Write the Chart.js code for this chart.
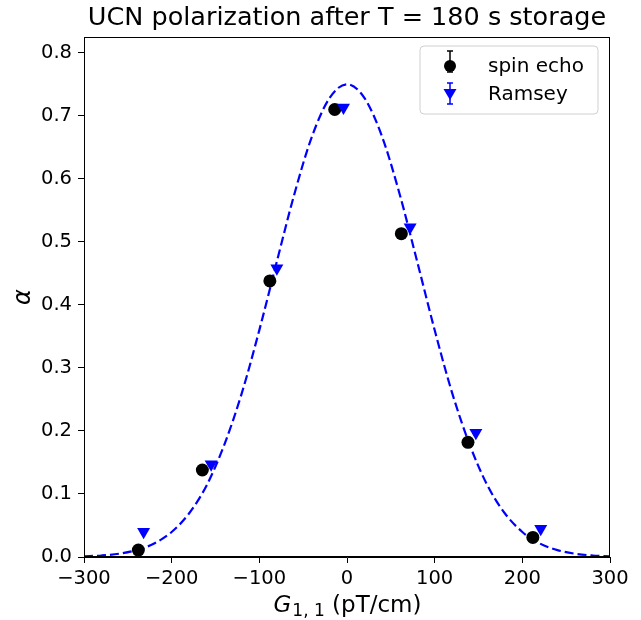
<!DOCTYPE html>
<html>
<head>
<meta charset="utf-8">
<script src="https://cdn.jsdelivr.net/npm/chart.js@4.4.1/dist/chart.umd.min.js"></script>
<style>
  html, body { margin: 0; padding: 0; background: #fff; }
</style>
</head>
<body>
<canvas id="chart_ucnPolarization" width="641" height="620"></canvas>
<script>
// values
var spinEchoX = [-238, -165, -88, -14, 62, 138, 212];
var spinEchoY = [0.011, 0.138, 0.438, 0.710, 0.513, 0.182, 0.031];
var ramseyX = [-232, -155, -80, -4, 72, 147, 221];
var ramseyY = [0.040, 0.147, 0.458, 0.713, 0.523, 0.197, 0.045];
// dashed fit curve, sampled every 20 pT/cm
var fitX = [-300, -280, -260, -240, -220, -200, -180, -160, -140, -120, -100, -80, -60, -40, -20, 0,
            20, 40, 60, 80, 100, 120, 140, 160, 180, 200, 220, 240, 260, 280, 300];
var fitY = [0.001, 0.0024, 0.0052, 0.0109, 0.0214, 0.0397, 0.0694, 0.114, 0.178, 0.260, 0.360, 0.469, 0.576, 0.667, 0.728, 0.750,
            0.728, 0.667, 0.576, 0.469, 0.360, 0.260, 0.178, 0.114, 0.0694, 0.0397, 0.0214, 0.0109, 0.0052, 0.0024, 0.001];
var xTicks = [-300, -200, -100, 0, 100, 200, 300];
var yTicks = [0, 0.1, 0.2, 0.3, 0.4, 0.5, 0.6, 0.7, 0.8];
var legendLabels = ['spin echo', 'Ramsey'];

function pts(xs, ys) {
    return xs.map(function(x, i) { return { x: x, y: ys[i] }; });
}
function fmtMinus(v) {
    return v < 0 ? '\u2212' + Math.abs(v) : String(v);
}

var FONT = 'DejaVu Sans';

var chart_ucnPolarization = new Chart(document.getElementById('chart_ucnPolarization'), {
    type: 'scatter',
    data: {
        datasets: [
            {
                label: 'Ramsey',
                data: pts(ramseyX, ramseyY),
                pointStyle: 'triangle',
                rotation: 180,
                pointRadius: 7.5,
                backgroundColor: '#0000ff',
                borderColor: '#0000ff',
                borderWidth: 0,
                order: 0
            },
            {
                label: 'spin echo',
                data: pts(spinEchoX, spinEchoY),
                pointStyle: 'circle',
                pointRadius: 6.5,
                backgroundColor: '#000000',
                borderColor: '#000000',
                borderWidth: 0,
                order: 1
            },
            {
                label: 'fit',
                type: 'line',
                data: pts(fitX, fitY),
                borderColor: '#0000ff',
                borderWidth: 2.2,
                borderDash: [9, 4],
                pointRadius: 0,
                cubicInterpolationMode: 'monotone',
                fill: false,
                order: 2
            }
        ]
    },
    options: {
        animation: false,
        responsive: false,
        layout: { padding: { left: 0, right: 31, top: 0, bottom: 0 } },
        plugins: {
            legend: { display: false },
            tooltip: { enabled: false },
            title: {
                display: true,
                fullSize: false,
                text: 'UCN polarization after T = 180 s storage',
                color: '#000',
                font: { family: FONT, size: 25.5, weight: 'normal', lineHeight: 1.2 },
                padding: { top: 3, bottom: 3.4 }
            }
        },
        scales: {
            x: {
                type: 'linear',
                min: -300,
                max: 300,
                afterFit: function(scale) { scale.height = 63; },
                afterBuildTicks: function(scale) {
                    scale.ticks = xTicks.map(function(v) { return { value: v }; });
                },
                ticks: {
                    color: '#000',
                    padding: 4,
                    maxRotation: 0,
                    font: { family: FONT, size: 19.5 },
                    callback: function(value) { return fmtMinus(value); }
                },
                grid: { drawOnChartArea: false, tickLength: 6, tickColor: '#000', tickWidth: 1 },
                border: { color: '#000', width: 1 }
            },
            y: {
                type: 'linear',
                min: 0,
                max: 0.825,
                afterFit: function(scale) { scale.width = 84; },
                afterBuildTicks: function(scale) {
                    scale.ticks = yTicks.map(function(v) { return { value: v }; });
                },
                ticks: {
                    color: '#000',
                    padding: 6,
                    font: { family: FONT, size: 19.5 },
                    callback: function(value) { return value.toFixed(1); }
                },
                grid: { drawOnChartArea: false, tickLength: 6, tickColor: '#000', tickWidth: 1 },
                border: { color: '#000', width: 1 }
            }
        }
    },
    plugins: [{
        id: 'frameAndLabels',
        beforeDraw: function(chart) {
            var ctx = chart.ctx;
            ctx.save();
            ctx.fillStyle = 'white';
            ctx.fillRect(0, 0, chart.width, chart.height);
            ctx.restore();
        },
        afterDraw: function(chart) {
            var ctx = chart.ctx;
            var a = chart.chartArea;
            ctx.save();
            // full box around the plot
            ctx.strokeStyle = '#000';
            ctx.lineWidth = 1;
            ctx.strokeRect(a.left + 0.5, a.top + 0.5, a.right - a.left - 1, a.bottom - a.top - 1);

            // y axis label
            ctx.fillStyle = '#000';
            ctx.save();
            ctx.translate(24, (a.top + a.bottom) / 2);
            ctx.rotate(-Math.PI / 2);
            ctx.textAlign = 'center';
            ctx.textBaseline = 'middle';
            ctx.font = 'italic 24px ' + FONT;
            ctx.fillText('\u03b1', 0, 0);
            ctx.restore();

            // x axis label: G_{1,1} (pT/cm)
            var big = '23px ' + FONT, bigI = 'italic 23px ' + FONT, small = '17px ' + FONT;
            ctx.textBaseline = 'alphabetic';
            ctx.textAlign = 'left';
            ctx.font = bigI; var wG = ctx.measureText('G').width;
            ctx.font = small; var wS = ctx.measureText('1, 1').width;
            ctx.font = big; var wR = ctx.measureText(' (pT/cm)').width;
            var x0 = (a.left + a.right) / 2 - (wG + wS + wR) / 2;
            var yb = 612;
            ctx.font = bigI; ctx.fillText('G', x0, yb);
            ctx.font = small; ctx.fillText('1, 1', x0 + wG + 1, yb + 4);
            ctx.font = big; ctx.fillText(' (pT/cm)', x0 + wG + wS + 1, yb);

            // legend box
            var bx = 420, by = 46, bw = 178, bh = 68, r = 4;
            ctx.beginPath();
            ctx.moveTo(bx + r, by);
            ctx.arcTo(bx + bw, by, bx + bw, by + bh, r);
            ctx.arcTo(bx + bw, by + bh, bx, by + bh, r);
            ctx.arcTo(bx, by + bh, bx, by, r);
            ctx.arcTo(bx, by, bx + bw, by, r);
            ctx.closePath();
            ctx.fillStyle = 'rgba(255,255,255,0.8)';
            ctx.fill();
            ctx.strokeStyle = '#d0d0d0';
            ctx.stroke();

            function errBar(cx, y1, y2, color) {
                ctx.strokeStyle = color;
                ctx.lineWidth = 1.5;
                ctx.beginPath();
                ctx.moveTo(cx, y1); ctx.lineTo(cx, y2);
                ctx.moveTo(cx - 3, y1); ctx.lineTo(cx + 3, y1);
                ctx.moveTo(cx - 3, y2); ctx.lineTo(cx + 3, y2);
                ctx.stroke();
            }
            var mx = 450;
            errBar(mx, 51, 72, '#000');
            ctx.fillStyle = '#000';
            ctx.beginPath(); ctx.arc(mx, 66, 6, 0, Math.PI * 2); ctx.fill();

            errBar(mx, 83, 104, '#0000ff');
            ctx.fillStyle = '#0000ff';
            ctx.beginPath();
            ctx.moveTo(mx - 6.5, 89); ctx.lineTo(mx + 6.5, 89); ctx.lineTo(mx, 100);
            ctx.closePath(); ctx.fill();

            ctx.fillStyle = '#000';
            ctx.font = '20px ' + FONT;
            ctx.textBaseline = 'middle';
            ctx.fillText(legendLabels[0], 488, 67);
            ctx.fillText(legendLabels[1], 488, 95);
            ctx.restore();
        }
    }]
});
</script>
</body>
</html>
